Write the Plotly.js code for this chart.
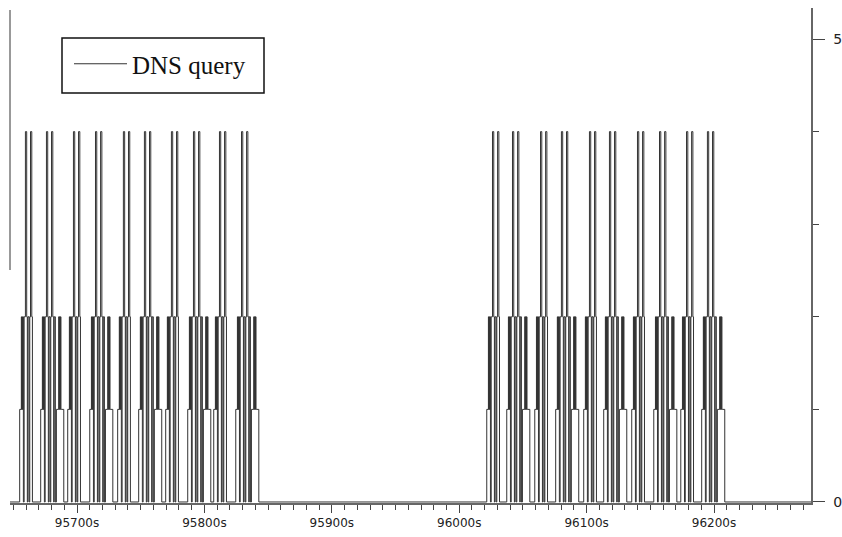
<!DOCTYPE html>
<html>
<head>
<meta charset="utf-8">
<script src="https://cdn.plot.ly/plotly-3.0.1.min.js"></script>
<style>html,body{margin:0;padding:0;background:#fff;}#chart{width:842px;height:537px;}</style>
</head>
<body>
<div id="chart"></div>
<script>
// Start time (s) of each query cluster
const clusterStarts = [95655.0, 95671.5, 95692.7, 95710.0, 95731.9, 95748.4, 95769.6, 95786.9, 95807.3, 95824.6,
                       96021.6, 96037.3, 96059.3, 96075.7, 96097.7, 96113.4, 96135.4, 96152.7, 96173.9, 96190.3];
// Cluster kind: A = short cluster, B = cluster followed by a level-1 tail
const clusterKinds = ['A','B','A','B','A','B','A','B','A','B',
                      'A','B','A','B','A','B','A','B','A','B'];
// Step pattern inside a cluster (seconds after cluster start, DNS query count)
const patternA_dt  = [0.0, 1.3, 1.6, 1.9, 2.2, 2.6, 2.9, 3.5, 4.5, 5.5, 6.0, 6.5, 7.4, 7.9, 8.5, 9.5, 10.0];
const patternA_val = [1,   2,   1,   2,   1,   2,   0,   2,   4,   2,   0,   2,   0,   2,   4,   2,   0];
const patternB_dt  = [0.0, 1.3, 1.6, 1.9, 2.2, 2.6, 2.9, 3.5, 4.5, 5.5, 6.0, 6.5, 7.4, 7.9, 8.5, 9.5, 10.2, 10.6, 11.5, 12.3, 14.1, 14.5, 14.8, 15.2, 15.5, 15.9, 16.2, 18.1];
const patternB_val = [1,   2,   1,   2,   1,   2,   0,   2,   4,   2,   0,   2,   0,   2,   4,   2,   0,    2,    0,    1,    2,    1,    2,    1,    2,    1,    1,    0];
const xStart = 95640, xEnd = 96280;
const xTickVals = [95700, 95800, 95900, 96000, 96100, 96200];
const yTickVals = [0, 5];

const t = [xStart], q = [0];
clusterStarts.forEach((s, i) => {
  const dt = clusterKinds[i] === 'A' ? patternA_dt : patternB_dt;
  const v  = clusterKinds[i] === 'A' ? patternA_val : patternB_val;
  for (let k = 0; k < dt.length; k++) { t.push(+(s + dt[k]).toFixed(2)); q.push(v[k]); }
});
t.push(xEnd); q.push(0);

const trace = {
  x: t, y: q, type: 'scatter', mode: 'lines', name: 'DNS query',
  line: {shape: 'hv', color: '#333', width: 1}
};

const L = 10, R = 811, T = 8, B = 503;
const W = 842, H = 537;
const px = x => (x - L) / (R - L);
const py = y => (B - y) / (B - T);

const layout = {
  width: W, height: H,
  margin: {l: L, r: W - R, t: T, b: H - B, pad: 0},
  paper_bgcolor: '#fff', plot_bgcolor: '#fff',
  showlegend: true,
  legend: {
    x: px(69), y: py(41), xanchor: 'left', yanchor: 'top',
    bgcolor: 'rgba(0,0,0,0)', borderwidth: 0, itemwidth: 53,
    font: {family: 'Liberation Serif, Times New Roman, serif', size: 25, color: '#111'}
  },
  xaxis: {
    range: [95647.4, 96276.1],
    tickvals: xTickVals, ticktext: xTickVals.map(v => v + 's'),
    ticks: 'outside', ticklen: 8, tickwidth: 1, tickcolor: '#444',
    minor: {dtick: 10, tick0: 0, ticks: 'outside', ticklen: 5, tickcolor: '#444', tickwidth: 1, showgrid: false},
    showline: true, linecolor: '#666', linewidth: 1.5,
    showgrid: false, zeroline: false,
    tickfont: {family: 'DejaVu Sans, sans-serif', size: 12, color: '#222'}
  },
  yaxis: {
    side: 'right', range: [-0.011, 5.335],
    tickvals: yTickVals, ticks: 'outside', ticklen: 12, tickwidth: 1, tickcolor: '#444',
    ticklabelstandoff: 6,
    minor: {dtick: 1, tick0: 0, ticks: 'outside', ticklen: 6, tickcolor: '#444', tickwidth: 1, showgrid: false},
    showline: true, linecolor: '#666', linewidth: 1.5,
    showgrid: false, zeroline: false,
    tickfont: {family: 'DejaVu Sans, sans-serif', size: 14, color: '#222'}
  },
  shapes: [
    {type: 'rect', xref: 'paper', yref: 'paper', x0: px(62), x1: px(264), y0: py(93), y1: py(38),
     line: {color: '#111', width: 1.5}, fillcolor: '#fff', layer: 'above'},
    {type: 'line', xref: 'paper', yref: 'paper', x0: 0, x1: 0, y0: py(270), y1: py(10),
     line: {color: '#777', width: 1.5}}
  ]
};

Plotly.newPlot('chart', [trace], layout, {displayModeBar: false, staticPlot: true});
</script>
</body>
</html>
